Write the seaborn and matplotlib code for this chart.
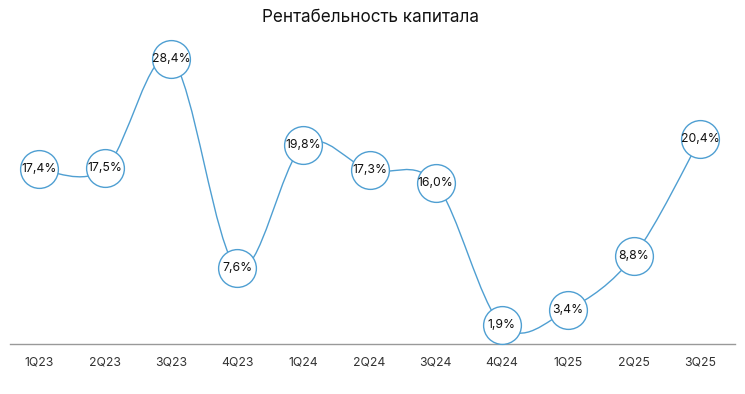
import numpy as np
import pandas as pd
import seaborn as sns
import matplotlib
matplotlib.use("Agg")
import matplotlib.pyplot as plt
from matplotlib.path import Path
from matplotlib.patches import PathPatch

quarters = ["1Q23", "2Q23", "3Q23", "4Q23", "1Q24", "2Q24",
            "3Q24", "4Q24", "1Q25", "2Q25", "3Q25"]
roe = [17.4, 17.5, 28.4, 7.6, 19.8, 17.3, 16.0, 1.9, 3.4, 8.8, 20.4]
labels = ["17,4%", "17,5%", "28,4%", "7,6%", "19,8%", "17,3%",
          "16,0%", "1,9%", "3,4%", "8,8%", "20,4%"]

blue = "#4f9fd2"

sns.set_theme(style="white")
plt.rcParams["font.family"] = ["Inter", "DejaVu Sans"]

df = pd.DataFrame({"q": np.arange(len(quarters)), "roe": roe})

fig = plt.figure(figsize=(7.45, 3.94), dpi=100)
ax = fig.add_axes([10 / 745, 50 / 394, 725 / 745, 304 / 394])


# smooth line through the points (catmull-rom style bezier)
def spline_path(xs, ys, t=1 / 6):
    pts = np.column_stack([xs, ys]).astype(float)
    n = len(pts)
    verts = [pts[0]]
    codes = [Path.MOVETO]
    for i in range(n - 1):
        p0 = pts[max(i - 1, 0)]
        p1 = pts[i]
        p2 = pts[i + 1]
        p3 = pts[min(i + 2, n - 1)]
        c1 = p1 + (p2 - p0) * t
        c2 = p2 - (p3 - p1) * t
        verts += [c1, c2, p2]
        codes += [Path.CURVE4] * 3
    return Path(verts, codes)


# scale so curve tension looks right in pixel space
xscale = 66.1 / 10.04
path = spline_path(df["q"] * xscale, df["roe"])
verts = path.vertices.copy()
verts[:, 0] /= xscale
ax.add_patch(PathPatch(Path(verts, path.codes), facecolor="none",
                       edgecolor=blue, lw=1.0, zorder=2))

sns.scatterplot(data=df, x="q", y="roe", ax=ax, s=740, color="white",
                edgecolor=blue, linewidth=1.0, zorder=3, clip_on=False,
                legend=False)

for x, y, lab in zip(df["q"], df["roe"], labels):
    ax.text(x, y, lab, ha="center", va="center", fontsize=8.8,
            color="#111111", zorder=4)

ax.set_xlim(-0.44, 10.53)
ax.set_ylim(0, 30.3)
ax.set_xticks(df["q"])
ax.set_xticklabels(quarters, fontsize=8.8, color="#333333")
ax.set_yticks([])
ax.set_xlabel("")
ax.set_ylabel("")
ax.tick_params(axis="x", length=0, pad=9)
for s in ["top", "left", "right"]:
    ax.spines[s].set_visible(False)
ax.spines["bottom"].set_color("#999999")
ax.spines["bottom"].set_linewidth(1.0)

fig.text(370 / 745, 1 - 17 / 394, "Рентабельность капитала", ha="center",
         va="center", fontsize=12.3, color="#111111")

fig.savefig("out.png", dpi=100)
